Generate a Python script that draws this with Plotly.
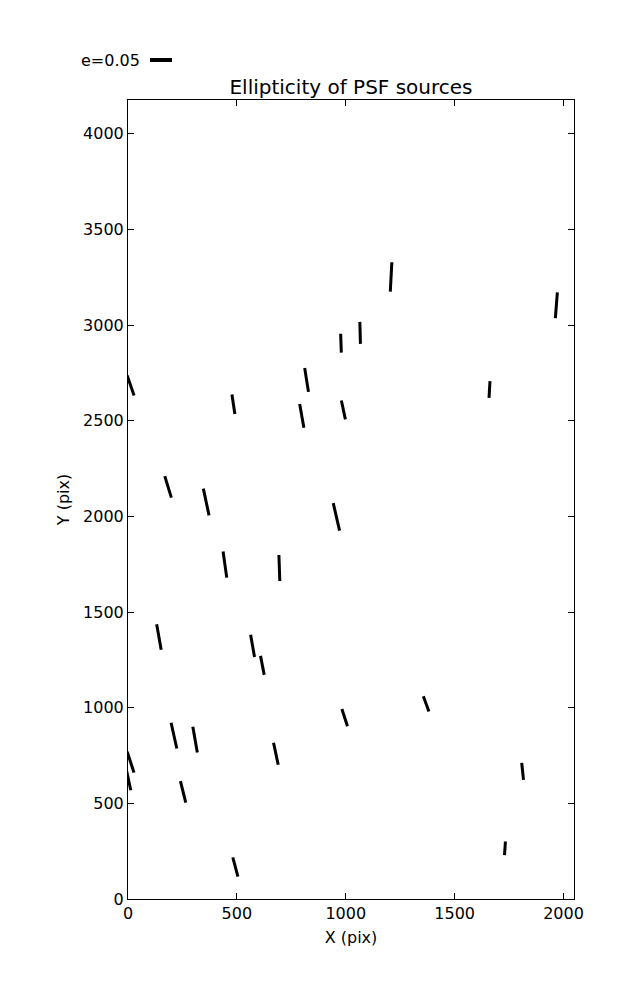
import math
import plotly.graph_objects as go

# ---- data ----
src_x = [978, 820, 12, 484, 798, 989, 184, 359, 957, 1208, 1967, 1066, 1660,
         445, 695, 142, 572, 617, 995, 211, 308, 12, 3, 679, 253, 493, 1369, 1812, 1731]
src_y = [2905, 2713, 2684, 2586, 2525, 2556, 2154, 2075, 1997, 3251, 3103, 2959, 2663,
         1748, 1730, 1369, 1323, 1221, 948, 854, 833, 715, 620, 759, 560, 167, 1020, 667, 265]
src_e = [0.043, 0.055, 0.048, 0.045, 0.055, 0.044, 0.051, 0.062, 0.064, 0.067, 0.059, 0.050, 0.038,
         0.060, 0.059, 0.059, 0.051, 0.044, 0.041, 0.060, 0.059, 0.050, 0.046, 0.051, 0.050, 0.045,
         0.037, 0.039, 0.031]
# position angle in degrees from +x axis
src_theta = [92, 99, 109, 98.5, 100, 102, 107, 102, 103, 87, 85.6, 91.5, 86.6,
             98, 92, 100, 100, 101, 108, 102.5, 100, 108, 102, 102, 104, 105, 110, 96, 86]

key_e = 0.05
x_ticks = [0, 500, 1000, 1500, 2000]
y_ticks = [0, 500, 1000, 1500, 2000, 2500, 3000, 3500, 4000]

# ---- layout constants (page body has an 8px margin) ----
OFF = 8
W, H = 637 - OFF, 1000 - OFF
ML, MR, MT, MB = 128 - OFF, 63, 100 - OFF, 101
XMAX, YMAX = 2048, 4176
PX_PER_E = 22 / 0.05          # segment length in pixels per unit ellipticity
plot_w = W - ML - MR
plot_h = H - MT - MB
sx = plot_w / XMAX
sy = plot_h / YMAX

seg_x, seg_y = [], []
for x, y, e, th in zip(src_x, src_y, src_e, src_theta):
    h = e * PX_PER_E / 2
    dx = h * math.cos(math.radians(th)) / sx
    dy = h * math.sin(math.radians(th)) / sy
    seg_x += [x - dx, x + dx, None]
    seg_y += [y - dy, y + dy, None]

fig = go.Figure()
fig.add_trace(go.Scatter(x=seg_x, y=seg_y, mode="lines",
                         line=dict(color="black", width=3), showlegend=False,
                         hoverinfo="skip"))

font = "DejaVu Sans, sans-serif"
axis_common = dict(showline=True, linecolor="black", linewidth=1, mirror="ticks",
                   ticks="inside", ticklen=6, tickcolor="black", tickwidth=1,
                   showgrid=False, zeroline=False,
                   tickfont=dict(family=font, size=16, color="black"))

fig.update_layout(
    width=W, height=H,
    margin=dict(l=ML, r=MR, t=MT, b=MB),
    paper_bgcolor="white", plot_bgcolor="white",
    title=dict(text="Ellipticity of PSF sources", x=(ML + plot_w / 2) / W, xanchor="center",
               y=1 - (87 - OFF) / H, yanchor="middle",
               font=dict(family=font, size=20, color="black")),
    xaxis=dict(range=[0, XMAX], tickvals=x_ticks,
               title=dict(text="X (pix)", font=dict(family=font, size=16, color="black"), standoff=9),
               **axis_common),
    yaxis=dict(range=[0, YMAX], tickvals=y_ticks,
               title=dict(text="Y (pix)", font=dict(family=font, size=16, color="black"), standoff=9),
               **axis_common),
)

# quiver key
key_len = key_e * PX_PER_E / plot_w
key_x0 = 22 / plot_w
key_y = (H - MB - (60 - OFF)) / plot_h
fig.add_shape(type="line", xref="paper", yref="paper",
              x0=key_x0, x1=key_x0 + key_len, y0=key_y, y1=key_y,
              line=dict(color="black", width=4))
fig.add_annotation(xref="paper", yref="paper", x=key_x0 - 8 / plot_w, y=key_y,
                   xanchor="right", yanchor="middle", showarrow=False,
                   text="e=%.2f" % key_e, font=dict(family=font, size=16, color="black"))

fig.write_html("out.html")
